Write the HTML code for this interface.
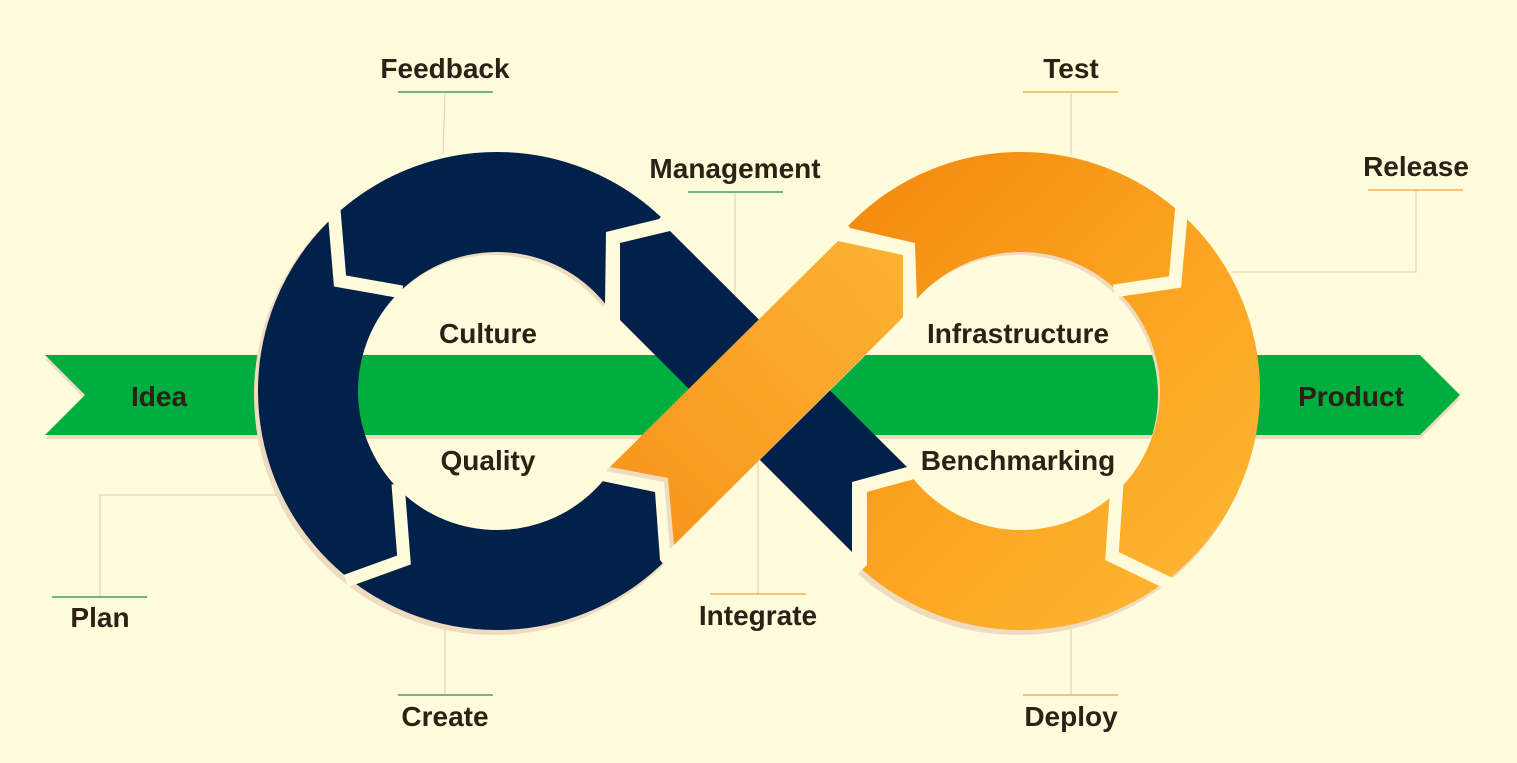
<!DOCTYPE html>
<html><head><meta charset="utf-8"><style>
html,body{margin:0;padding:0;background:#FFFBDB;}
svg{display:block}
text{font-family:"Liberation Sans",Arial,sans-serif;font-weight:bold;font-size:28px;fill:#2B2116;text-anchor:middle}
</style></head><body>
<svg width="1517" height="763" viewBox="0 0 1517 763">
<defs>
<linearGradient id="og" x1="0" y1="0" x2="1" y2="1">
<stop offset="0" stop-color="#F28A0F"/><stop offset="0.5" stop-color="#FBA21F"/><stop offset="1" stop-color="#FDB532"/>
</linearGradient>
<linearGradient id="og2" x1="0" y1="1" x2="1" y2="0">
<stop offset="0" stop-color="#F7931A"/><stop offset="1" stop-color="#FDB332"/>
</linearGradient>
<clipPath id="cl"><polygon points="497,391 605,305 606,232 659,219 720,150 720,-50 -100,-50 -100,900 720,900 720,630 660,560 655,492 597,480"/></clipPath>
<clipPath id="cr"><polygon points="1021,391 917,302 915,243 850,228 790,150 790,-50 1600,-50 1600,900 790,900 790,640 867,565 867,492 918,478"/></clipPath>
</defs>
<rect width="1517" height="763" fill="#FFFBDB"/>
<polygon points="45,359 1420,359 1460,399 1420,439 45,439 85,399" fill="#EFDCC0"/>
<polygon points="45,355 1420,355 1460,395 1420,435 45,435 85,395" fill="#00AD3F"/>
<g stroke="#EAD2B8" stroke-width="1.2" fill="none">
<polyline points="445,93 443,155"/>
<polyline points="1071,93 1071,155"/>
<polyline points="735,193 735,300"/>
<polyline points="1416,190 1416,272 1232,272"/>
<polyline points="100,597 100,495 280,495"/>
<polyline points="445,695 445,628"/>
<polyline points="758,594 758,460"/>
<polyline points="1071,695 1071,628"/>
</g>
<g stroke-width="1.2">
<line x1="398" y1="92" x2="493" y2="92" stroke="#1E8A55"/>
<line x1="1023" y1="92" x2="1118" y2="92" stroke="#F2A53A"/>
<line x1="688" y1="192" x2="783" y2="192" stroke="#1E8A55"/>
<line x1="1368" y1="190" x2="1463" y2="190" stroke="#F2A53A"/>
<line x1="52" y1="597" x2="147" y2="597" stroke="#1E8A55"/>
<line x1="398" y1="695" x2="493" y2="695" stroke="#1E8A55"/>
<line x1="710" y1="594" x2="806" y2="594" stroke="#F2A53A"/>
<line x1="1023" y1="695" x2="1118" y2="695" stroke="#F2A53A"/>
</g>
<g clip-path="url(#cl)">
<circle cx="494" cy="395" r="190" fill="none" stroke="#EFDCC0" stroke-width="100"/>
<circle cx="497" cy="391" r="189" fill="none" stroke="#00214A" stroke-width="100"/>
</g>
<g stroke="#FFFBDB" stroke-width="13" fill="none" stroke-linejoin="miter">
<polyline points="333,198 340,281 402,292"/>
<polyline points="398,484 404,560 346,581"/>
</g>
<polygon points="620,243 670,231 907,467 852,482 852,552 620,320" fill="#00214A"/>
<g clip-path="url(#cr)">
<circle cx="1018" cy="395" r="190" fill="none" stroke="#EFDCC0" stroke-width="100"/>
<circle cx="1021" cy="391" r="189" fill="none" stroke="url(#og)" stroke-width="100"/>
</g>
<g stroke="#FFFBDB" stroke-width="13" fill="none">
<polyline points="1182,205 1175,282 1114,291"/>
<polyline points="1117,484 1112,556 1170,584"/>
</g>
<polygon points="606,471 834,245 899,259 900,321 670,549 664,482" fill="#EFDCC0"/>
<polygon points="610,467 838,241 903,255 903,317 674,545 668,478" fill="url(#og2)"/>
<text x="445" y="78">Feedback</text>
<text x="1071" y="78">Test</text>
<text x="735" y="178">Management</text>
<text x="1416" y="176">Release</text>
<text x="100" y="627">Plan</text>
<text x="445" y="726">Create</text>
<text x="758" y="625">Integrate</text>
<text x="1071" y="726">Deploy</text>
<text x="159" y="406">Idea</text>
<text x="1351" y="406">Product</text>
<text x="488" y="343">Culture</text>
<text x="488" y="470">Quality</text>
<text x="1018" y="343">Infrastructure</text>
<text x="1018" y="470">Benchmarking</text>
</svg>
</body></html>
